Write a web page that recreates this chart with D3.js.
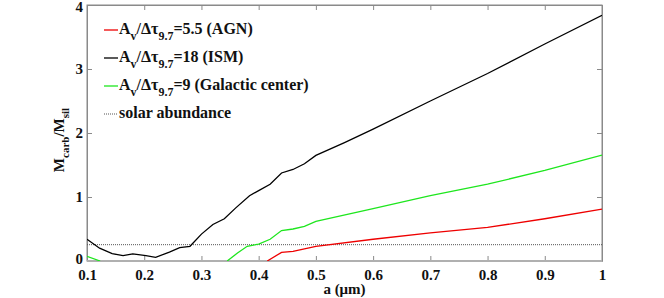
<!DOCTYPE html>
<html>
<head>
<meta charset="utf-8">
<script src="https://cdn.jsdelivr.net/npm/d3@7"></script>
<style>
  body { margin: 0; background: #fff; }
</style>
</head>
<body>
<script>
// grain size (um) and carbon/silicate mass ratio
var aISM = [0.1, 0.122, 0.144, 0.163, 0.18, 0.203, 0.22, 0.244, 0.262, 0.28, 0.3, 0.32, 0.34, 0.36, 0.384, 0.4, 0.42, 0.44, 0.46, 0.48, 0.5, 0.55, 0.6, 0.7, 0.8, 0.9, 1.0];
var ism = [0.34, 0.2, 0.115, 0.083, 0.11, 0.083, 0.057, 0.14, 0.21, 0.23, 0.42, 0.57, 0.66, 0.83, 1.02, 1.1, 1.2, 1.375, 1.43, 1.52, 1.65, 1.85, 2.06, 2.5, 2.93, 3.39, 3.84];

var aGC = [0.1, 0.123, 0.2, 0.345, 0.363, 0.38, 0.4, 0.42, 0.44, 0.46, 0.48, 0.5, 0.6, 0.7, 0.8, 0.9, 1.0];
var gc = [0.073, 0, null, 0, 0.125, 0.23, 0.265, 0.34, 0.475, 0.5, 0.54, 0.62, 0.817, 1.02, 1.2, 1.415, 1.656];

var aAGN = [0.415, 0.44, 0.46, 0.48, 0.5, 0.6, 0.7, 0.8, 0.9, 1.0];
var agn = [0, 0.135, 0.15, 0.19, 0.23, 0.34, 0.44, 0.525, 0.66, 0.81];

var solar = 0.255;

var xTicks = [0.1, 0.2, 0.3, 0.4, 0.5, 0.6, 0.7, 0.8, 0.9, 1];
var yTicks = [0, 1, 2, 3, 4];

var width = 664, height = 298;
var mLeft = 87, mRight = 602, mTop = 5, mBottom = 261;
var serif = "'Liberation Serif', 'Times New Roman', 'DejaVu Serif', serif";

var svg = d3.select("body").append("svg")
    .attr("width", width)
    .attr("height", height)
    .attr("font-family", serif)
    .attr("font-weight", "bold");

var x = d3.scaleLinear().domain([0.1, 1]).range([mLeft, mRight]);
var y = d3.scaleLinear().domain([0, 4]).range([mBottom, mTop]);

svg.append("clipPath").attr("id", "plot")
  .append("rect")
    .attr("x", mLeft).attr("y", mTop)
    .attr("width", mRight - mLeft).attr("height", mBottom - mTop);

// frame
svg.append("rect")
    .attr("x", mLeft).attr("y", mTop)
    .attr("width", mRight - mLeft).attr("height", mBottom - mTop)
    .attr("fill", "none")
    .attr("stroke", "#8a8a8a")
    .attr("stroke-width", 1);

// axes, ticks pointing inwards
var fmt = function(d) { return d == 1 ? "1" : d3.format(".1f")(d) };
svg.append("g").attr("transform", "translate(0," + mBottom + ")")
    .call(d3.axisBottom(x).tickValues(xTicks).tickSizeInner(-5).tickSizeOuter(0).tickPadding(8).tickFormat(fmt));
svg.append("g").attr("transform", "translate(0," + mTop + ")")
    .call(d3.axisTop(x).tickValues(xTicks).tickSizeInner(-5).tickSizeOuter(0).tickFormat(""));
svg.append("g").attr("transform", "translate(" + mLeft + ",0)")
    .call(d3.axisLeft(y).tickValues(yTicks).tickSizeInner(-5).tickSizeOuter(0).tickPadding(4).tickFormat(d3.format("d")));
svg.append("g").attr("transform", "translate(" + mRight + ",0)")
    .call(d3.axisRight(y).tickValues(yTicks).tickSizeInner(-5).tickSizeOuter(0).tickFormat(""));

svg.selectAll("g").attr("font-family", serif);
svg.selectAll(".domain").attr("stroke", "#8a8a8a");
svg.selectAll(".tick line").attr("stroke", "#8a8a8a");
svg.selectAll(".tick text")
    .attr("font-size", 15)
    .attr("font-weight", "bold")
    .attr("fill", "#111");

// end labels sit at the corners, nudge them a touch
svg.selectAll(".tick text").filter(function(d) { return d === 4 }).attr("dy", "0.45em");
svg.selectAll(".tick text").filter(function(d) { return d === 0 }).attr("dy", "0.18em");

// bottom axis line slightly heavier, like the original
svg.append("line")
    .attr("x1", mLeft).attr("x2", mRight)
    .attr("y1", y(0)).attr("y2", y(0))
    .attr("stroke", "#b0b0b0").attr("stroke-width", 2);

var plot = svg.append("g").attr("clip-path", "url(#plot)");

// solar abundance
plot.append("line")
    .attr("x1", x(0.1)).attr("x2", x(1))
    .attr("y1", y(solar)).attr("y2", y(solar))
    .attr("stroke", "#555")
    .attr("stroke-width", 1)
    .attr("stroke-dasharray", "1,1");

function drawSeries(xs, ys, color) {
  var pts = xs.map(function(d, i) { return [d, ys[i]] });
  var line = d3.line()
      .defined(function(d) { return d[1] !== null })
      .x(function(d) { return x(d[0]) })
      .y(function(d) { return y(d[1]) });
  plot.append("path")
      .attr("d", line(pts))
      .attr("fill", "none")
      .attr("stroke", color)
      .attr("stroke-width", 1.3);
}

drawSeries(aISM, ism, "#000");
drawSeries(aGC, gc, "#1ee61e");
drawSeries(aAGN, agn, "#ee0000");

// legend
var legend = [
  { color: "#ee0000", num: "=5.5 (AGN)", dash: null },
  { color: "#000", num: "=18 (ISM)", dash: null },
  { color: "#1ee61e", num: "=9 (Galactic center)", dash: null },
  { color: "#555", num: null, dash: "1,1" }
];
var rowY = [34, 62, 90, 118];

legend.forEach(function(d, i) {
  var by = rowY[i];
  svg.append("line")
      .attr("x1", 104).attr("x2", 118)
      .attr("y1", by - 4).attr("y2", by - 4)
      .attr("stroke", d.color)
      .attr("stroke-width", d.dash ? 1 : 1.3)
      .attr("stroke-dasharray", d.dash);
  var t = svg.append("text")
      .attr("x", 119).attr("y", by)
      .attr("font-size", 16)
      .attr("fill", "#111");
  if (d.num === null) {
    t.text("solar abundance");
  } else {
    t.append("tspan").text("A");
    t.append("tspan").attr("font-size", 12).attr("dy", 6).text("v");
    t.append("tspan").attr("dy", -6).text("/Δτ");
    t.append("tspan").attr("font-size", 12).attr("dy", 6).text("9.7");
    t.append("tspan").attr("dy", -6).text(d.num);
  }
});

// axis labels
svg.append("text")
    .attr("x", (mLeft + mRight) / 2)
    .attr("y", 294)
    .attr("text-anchor", "middle")
    .attr("font-size", 15)
    .attr("fill", "#111")
    .text("a (μm)");

var yl = svg.append("text")
    .attr("transform", "translate(64,140) rotate(-90)")
    .attr("text-anchor", "middle")
    .attr("font-size", 15)
    .attr("fill", "#111");
yl.append("tspan").text("M");
yl.append("tspan").attr("font-size", 11).attr("dy", 5).text("carb");
yl.append("tspan").attr("dy", -5).text("/M");
yl.append("tspan").attr("font-size", 11).attr("dy", 5).text("sil");
</script>
</body>
</html>
